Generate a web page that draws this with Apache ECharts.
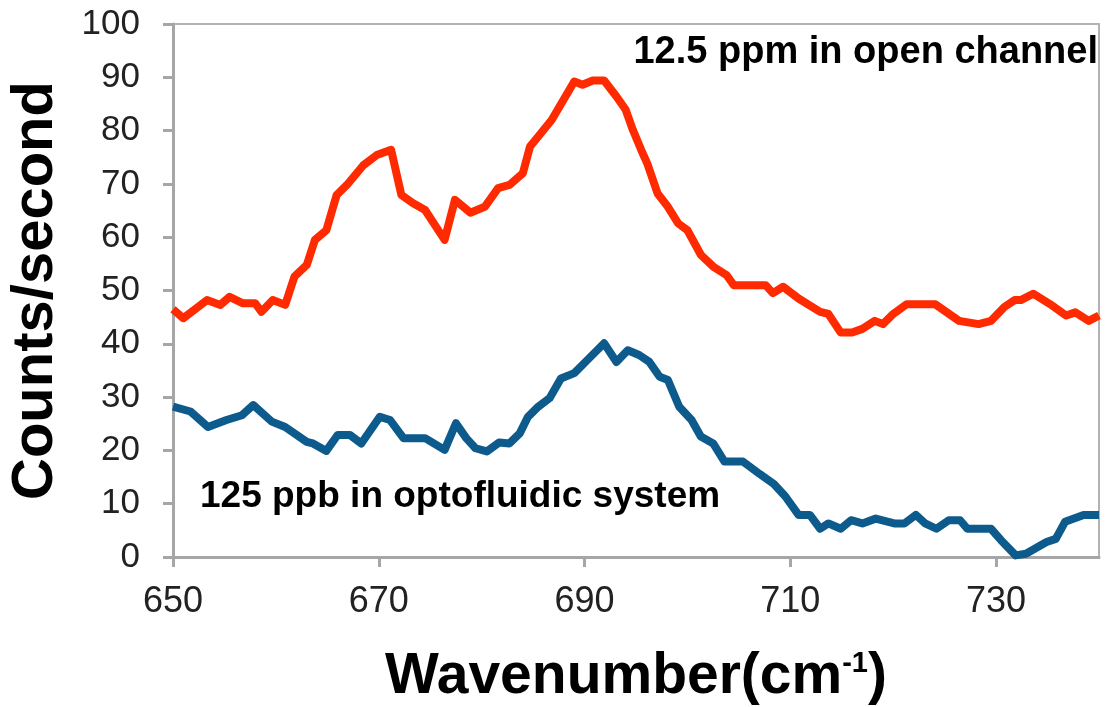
<!DOCTYPE html>
<html>
<head>
<meta charset="utf-8">
<script src="https://cdn.jsdelivr.net/npm/echarts@6/dist/echarts.min.js"></script>
<style>
  html, body { margin: 0; padding: 0; background: #fff; }
  #chart { width: 1105px; height: 707px; }
</style>
</head>
<body>
<div id="chart"></div>
<script>
// 12.5 ppm in open channel (red)
var openX = [650.0, 651.0, 653.3, 654.6, 655.5, 656.8, 658.0, 658.6, 659.7, 660.9,
    661.8, 663.0, 663.8, 664.9, 665.9, 666.9, 668.5, 669.8, 671.2, 672.2,
    673.3, 674.5, 676.4, 677.4, 678.9, 680.3, 681.6, 682.7, 684.0, 684.7,
    685.5, 686.8, 689.0, 689.8, 690.8, 691.9, 693.1, 694.0, 694.7, 695.5,
    696.1, 697.1, 698.1, 699.1, 700.0, 701.3, 702.5, 703.8, 704.5, 707.6,
    708.3, 709.3, 710.8, 712.9, 713.7, 714.9, 716.0, 717.0, 718.2, 719.0,
    720.0, 721.3, 724.1, 726.4, 728.3, 729.5, 730.8, 731.8, 732.4, 733.6,
    735.2, 736.8, 737.7, 739.0, 740.0];
var openY = [46.5, 44.8, 48.2, 47.3, 48.8, 47.6, 47.6, 46.0, 48.2, 47.3,
    52.6, 54.8, 59.5, 61.3, 67.9, 69.8, 73.5, 75.4, 76.4, 67.9,
    66.4, 65.1, 59.5, 67.0, 64.6, 65.7, 69.2, 69.8, 72.0, 77.0,
    78.9, 82.0, 89.2, 88.6, 89.4, 89.4, 86.4, 83.9, 80.1, 76.4,
    73.8, 68.2, 65.7, 62.6, 61.3, 56.7, 54.5, 52.9, 51.0, 51.0,
    49.5, 50.7, 48.5, 46.0, 45.6, 42.1, 42.1, 42.8, 44.3, 43.7,
    45.6, 47.4, 47.4, 44.3, 43.7, 44.3, 46.9, 48.2, 48.2, 49.4,
    47.5, 45.3, 45.9, 44.3, 45.3];

// 125 ppb in optofluidic system (blue)
var optoX = [650.0, 651.7, 653.4, 655.2, 656.7, 657.8, 659.6, 660.9, 663.0, 663.6,
    664.9, 666.0, 667.2, 668.3, 670.1, 671.1, 672.4, 674.5, 676.4, 677.5,
    678.5, 679.4, 680.5, 681.7, 682.7, 683.7, 684.5, 685.5, 686.6, 687.7,
    689.0, 690.3, 691.9, 693.1, 694.2, 695.3, 696.3, 697.3, 698.1, 699.2,
    700.4, 701.3, 702.5, 703.6, 705.4, 707.0, 708.4, 709.5, 710.8, 711.9,
    712.9, 713.7, 714.9, 715.9, 717.0, 718.3, 720.1, 721.1, 722.2, 723.1,
    724.2, 725.4, 726.5, 727.2, 729.5, 730.5, 731.9, 732.9, 734.9, 735.8,
    736.7, 738.5, 740.0];
var optoY = [28.2, 27.3, 24.4, 25.7, 26.6, 28.5, 25.4, 24.4, 21.6, 21.3,
    19.9, 22.9, 22.9, 21.3, 26.3, 25.7, 22.3, 22.3, 20.1, 25.1,
    22.3, 20.4, 19.8, 21.5, 21.3, 23.2, 26.3, 28.2, 29.8, 33.5,
    34.5, 37.0, 40.1, 36.6, 38.8, 37.9, 36.6, 33.8, 33.2, 28.2,
    25.7, 22.6, 21.3, 17.9, 17.9, 15.6, 13.7, 11.4, 7.9, 7.9,
    5.3, 6.3, 5.3, 6.9, 6.3, 7.2, 6.3, 6.3, 7.9, 6.3,
    5.3, 6.9, 6.9, 5.3, 5.3, 3.1, 0.3, 0.6, 2.8, 3.4,
    6.6, 7.9, 7.9];

var labels = ['12.5 ppm in open channel', '125 ppb in optofluidic system'];

function pairs(xs, ys) {
    var out = [];
    for (var i = 0; i < xs.length; i++) {
        out.push([xs[i], ys[i]]);
    }
    return out;
}

var chart = echarts.init(document.getElementById('chart'));
var font = 'Liberation Sans, Arial, sans-serif';

var option = {
    animation: false,
    backgroundColor: '#fff',
    grid: {
        left: 173, right: 6, top: 24, bottom: 150,
        containLabel: false,
        outerBoundsMode: 'none',
        show: true, borderColor: '#b3b3b3', borderWidth: 2
    },
    xAxis: {
        type: 'value',
        min: 650, max: 740, interval: 20,
        name: '{a|Wavenumber(cm}{s|-1}{a|)}',
        nameLocation: 'middle',
        nameGap: 92,
        nameTextStyle: {
            rich: {
                a: { fontFamily: font, fontWeight: 'bold', fontSize: 57, color: '#000' },
                s: { fontFamily: font, fontWeight: 'bold', fontSize: 29, color: '#000', verticalAlign: 'top', padding: [0, 0, 28, 0] }
            }
        },
        axisLine: { lineStyle: { color: '#a6a6a6', width: 3 } },
        axisTick: { show: true, length: 10, lineStyle: { color: '#a6a6a6', width: 3 } },
        axisLabel: { margin: 27, fontFamily: font, fontSize: 36, color: '#222', showMaxLabel: false },
        splitLine: { show: false }
    },
    yAxis: {
        type: 'value',
        min: 0, max: 100, interval: 10,
        name: 'Counts/second',
        nameLocation: 'middle',
        nameRotate: 90,
        nameGap: 108,
        nameTextStyle: { fontFamily: font, fontWeight: 'bold', fontSize: 58, color: '#000' },
        axisLine: { show: true, lineStyle: { color: '#a6a6a6', width: 3 } },
        axisTick: { show: true, length: 10, lineStyle: { color: '#a6a6a6', width: 3 } },
        axisLabel: { margin: 33, fontFamily: font, fontSize: 35, color: '#222' },
        splitLine: { show: false }
    },
    graphic: [
        {
            type: 'text',
            style: {
                x: 1098, y: 53, text: labels[0],
                textAlign: 'right', textVerticalAlign: 'middle',
                font: 'bold 38px ' + font, fill: '#000'
            }
        },
        {
            type: 'text',
            style: {
                x: 200, y: 497, text: labels[1],
                textAlign: 'left', textVerticalAlign: 'middle',
                font: 'bold 37px ' + font, fill: '#000'
            }
        }
    ],
    series: [
        {
            name: labels[0],
            type: 'line',
            data: pairs(openX, openY),
            showSymbol: false,
            lineStyle: { color: '#ff2a00', width: 8, join: 'round' },
            itemStyle: { color: '#ff2a00' }
        },
        {
            name: labels[1],
            type: 'line',
            data: pairs(optoX, optoY),
            showSymbol: false,
            lineStyle: { color: '#0d5a8c', width: 8, join: 'round' },
            itemStyle: { color: '#0d5a8c' }
        }
    ]
};

chart.setOption(option);
</script>
</body>
</html>
